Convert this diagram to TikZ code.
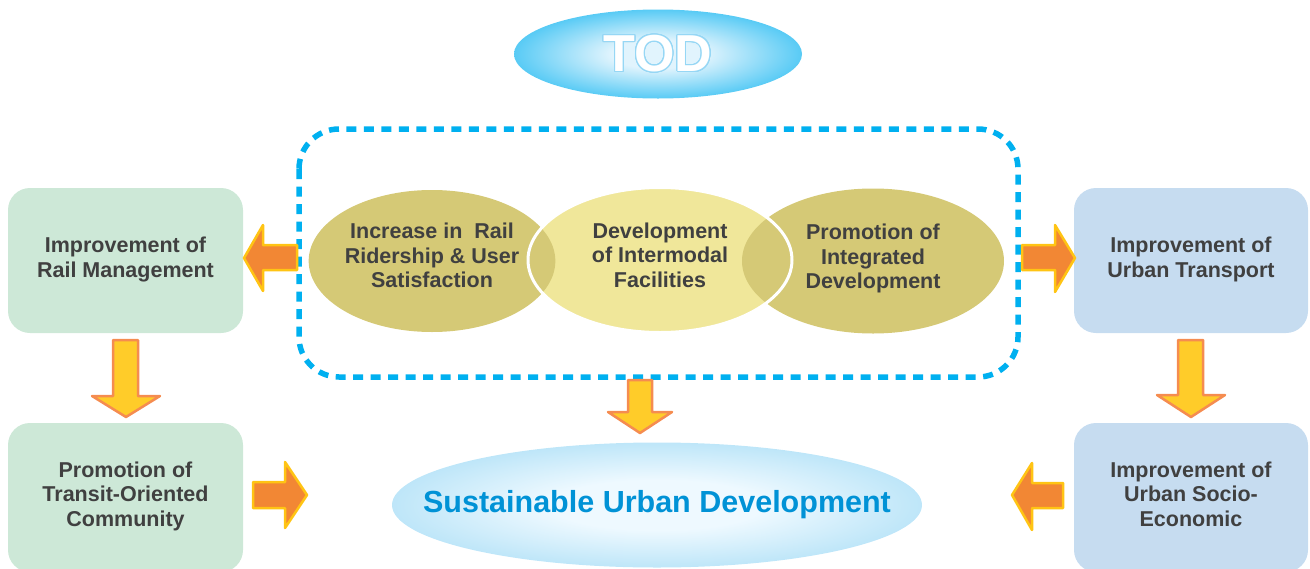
\documentclass[tikz,border=0pt]{standalone}
\usepackage{fontspec}
\setmainfont{Liberation Sans}
\usepackage{contour}
\usetikzlibrary{shapes.geometric}

\definecolor{inktext}{RGB}{64,64,64}
\definecolor{boxgreen}{RGB}{205,232,215}
\definecolor{boxblue}{RGB}{198,220,240}
\definecolor{goalolive}{RGB}{213,201,118}
\definecolor{goalyellow}{RGB}{240,231,154}
\definecolor{frameblue}{RGB}{0,176,240}
\definecolor{todin}{RGB}{225,244,253}
\definecolor{todout}{RGB}{0,176,240}
\definecolor{todrim}{RGB}{150,215,245}
\definecolor{sudin}{RGB}{238,249,255}
\definecolor{sudout}{RGB}{142,211,242}
\definecolor{sudtext}{RGB}{0,146,214}
\definecolor{arroworange}{RGB}{242,135,52}
\definecolor{arrowgold}{RGB}{255,196,20}
\definecolor{arrowyellow}{RGB}{255,204,41}
\definecolor{arrowrim}{RGB}{245,140,80}

\pgfdeclareradialshading{todglow}{\pgfpoint{0bp}{0bp}}{%
  color(0bp)=(todin); color(8bp)=(todin); color(36bp)=(todout); color(50bp)=(todout)}
\pgfdeclareradialshading{sudglow}{\pgfpoint{0bp}{0bp}}{%
  color(0bp)=(sudin); color(10bp)=(sudin); color(40bp)=(sudout); color(50bp)=(sudout)}

% extra depth below the last line to lift a text block
\newcommand{\liftby}[1]{\rule[-#1]{0pt}{#1}}

\contourlength{1.1pt}
\contournumber{24}

\begin{document}
\begin{tikzpicture}[x=1pt,y=-1pt,
  boxtext/.style={font=\fontsize{21.5}{24.5}\selectfont\bfseries, text=inktext, align=center},
  greenbox/.style={boxtext, rectangle, rounded corners=22pt, fill=boxgreen,
    minimum width=235pt, minimum height=145pt, inner sep=0pt},
  bluebox/.style={greenbox, fill=boxblue},
  goal/.style={boxtext, ellipse, inner sep=0pt},
  sidearrow/.style={fill=arroworange, draw=arrowgold, line width=2.5pt, line join=round},
  downarrow/.style={fill=arrowyellow, draw=arrowrim, line width=2.5pt, line join=round},
  dashframe/.style={draw=frameblue, line width=5.5pt, dash pattern=on 10pt off 7.5pt,
    rounded corners=40pt},
]
\useasboundingbox (0,0) rectangle (1310,568);

% heading
\node[ellipse, shading=todglow, minimum width=288pt, minimum height=89pt, inner sep=0pt,
  text=white, font=\fontsize{52}{52}\selectfont\bfseries] (tod) at (658,54)
  {\contour{todrim}{TOD}};

% the three goals inside the dashed frame
\node[goal, fill=goalyellow, minimum width=264pt, minimum height=145pt] (intermodal)
  at (660,260) {Development\\of Intermodal\\Facilities\liftby{10pt}};
\node[goal, fill=goalolive, minimum width=246pt, minimum height=142pt] (ridership)
  at (432,261) {Increase in\ \ Rail\\Ridership \& User\\Satisfaction\liftby{11pt}};
\node[goal, fill=goalolive, minimum width=262pt, minimum height=145pt] (integrated)
  at (873,261) {Promotion of\\Integrated\\Development\liftby{9pt}};
\draw[white, line width=3pt] (intermodal.center) ellipse [x radius=132, y radius=72.5];

\draw[dashframe] (299,129) rectangle (1018,377);

% side boxes
\node[greenbox] (railmgmt) at (125.5,260.5) {Improvement of\\Rail Management\liftby{7pt}};
\node[greenbox, minimum height=149pt] (community) at (125.5,497.5)
  {Promotion of\\Transit-Oriented\\Community\liftby{7pt}};
\node[bluebox, minimum width=234pt] (transport) at (1191,260.5)
  {Improvement of\\Urban Transport\liftby{7pt}};
\node[bluebox, minimum width=234pt, minimum height=149pt] (socio) at (1191,497.5)
  {Improvement of\\Urban Socio-\\Economic\liftby{7pt}};

% outcome
\node[ellipse, shading=sudglow, minimum width=530pt, minimum height=125pt, inner sep=0pt,
  text=sudtext, font=\fontsize{30.5}{30.5}\selectfont\bfseries] (sustainable) at (657,505)
  {\makebox[0pt]{Sustainable Urban Development}\liftby{3pt}};

% horizontal block arrows
\draw[sidearrow] (244,258) -- (263,225) -- (263,245) -- (297,245) -- (297,270)
  -- (263,270) -- (263,291) -- cycle;
\draw[sidearrow] (1075,258) -- (1055,225) -- (1055,245) -- (1022,245) -- (1022,270)
  -- (1055,270) -- (1055,292) -- cycle;
\draw[sidearrow] (307,495) -- (285,462) -- (285,482) -- (253,482) -- (253,508)
  -- (285,508) -- (285,528) -- cycle;
\draw[sidearrow] (1012,495) -- (1032,463) -- (1032,483) -- (1063,483) -- (1063,508)
  -- (1032,508) -- (1032,530) -- cycle;

% vertical block arrows
\draw[downarrow] (126,417) -- (160,396) -- (138,396) -- (138,340) -- (113,340)
  -- (113,396) -- (92,396) -- cycle;
\draw[downarrow] (640,433) -- (672,412) -- (652,412) -- (652,380) -- (628,380)
  -- (628,412) -- (608,412) -- cycle;
\draw[downarrow] (1191,417) -- (1225,395) -- (1203,395) -- (1203,340) -- (1178,340)
  -- (1178,395) -- (1157,395) -- cycle;
\end{tikzpicture}
\end{document}
